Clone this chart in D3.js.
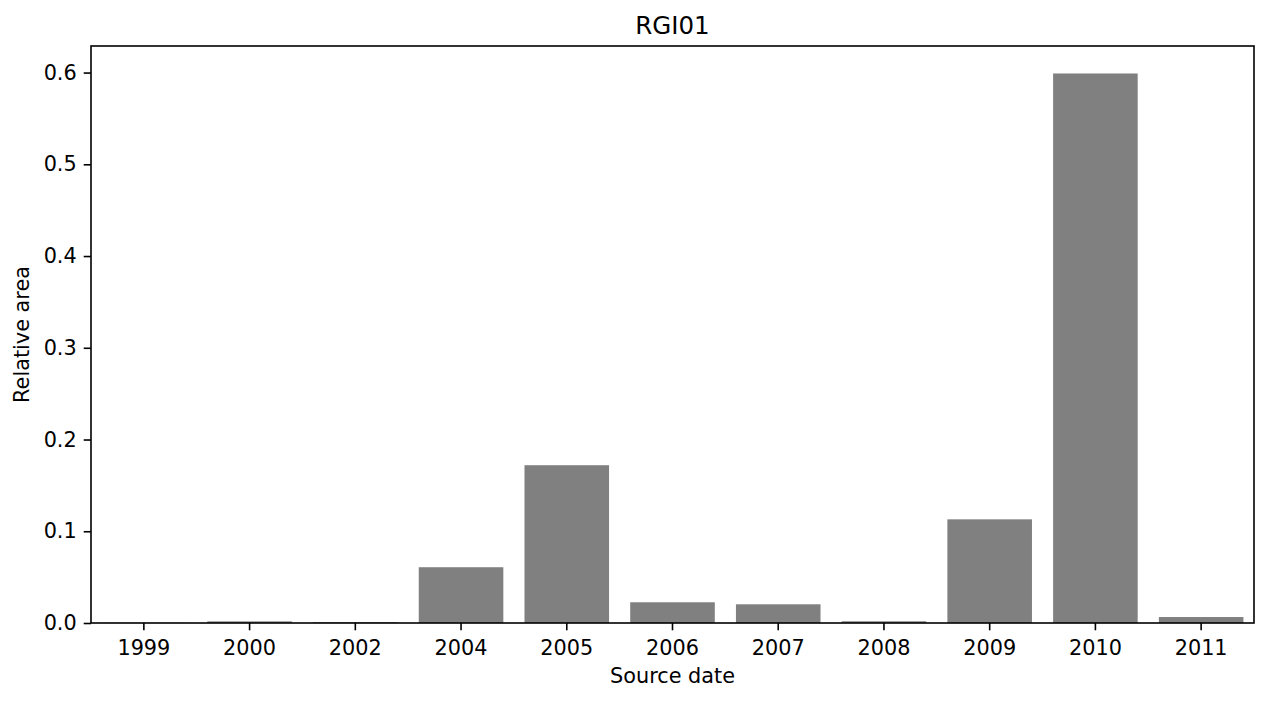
<!DOCTYPE html>
<html>
<head>
<meta charset="utf-8">
<script src="https://d3js.org/d3.v7.min.js"></script>
<style>
  body { margin: 0; background: #fff; }
  text { font-family: "DejaVu Sans", sans-serif; fill: #000; }
</style>
</head>
<body>
<svg id="chart" width="1268" height="701"></svg>
<script>
const categories = ["1999","2000","2002","2004","2005","2006","2007","2008","2009","2010","2011"];
const values = [0.0002, 0.0018, 0.0008, 0.0608, 0.172, 0.0226, 0.0204, 0.0019, 0.113, 0.599, 0.0065];
const yTicks = [0.0, 0.1, 0.2, 0.3, 0.4, 0.5, 0.6];
const title = "RGI01";
const xLabel = "Source date";
const yLabel = "Relative area";

const svg = d3.select("#chart");
const margin = {left: 91, right: 14, top: 46, bottom: 78};
const W = 1268, H = 701;
const pw = W - margin.left - margin.right;
const ph = H - margin.top - margin.bottom;

const x = d3.scaleBand().domain(categories).range([0, pw]).paddingInner(0.2).paddingOuter(0.1);
const y = d3.scaleLinear().domain([0, d3.max(values) * 1.05]).range([ph, 0]);

const g = svg.append("g").attr("transform", `translate(${margin.left},${margin.top})`);

g.selectAll("rect.bar").data(categories).join("rect")
  .attr("class", "bar")
  .attr("x", d => x(d))
  .attr("width", x.bandwidth())
  .attr("y", (d, i) => y(values[i]))
  .attr("height", (d, i) => y(0) - y(values[i]))
  .attr("fill", "#808080");

const fs = 20.8;
const xAxis = g.append("g").attr("transform", `translate(0,${ph})`)
  .call(d3.axisBottom(x).tickSize(7.3).tickPadding(9.5).tickSizeOuter(0));
const yAxis = g.append("g")
  .call(d3.axisLeft(y).tickValues(yTicks).tickFormat(d3.format(".1f")).tickSize(7.3).tickPadding(7).tickSizeOuter(0));
[xAxis, yAxis].forEach(a => {
  a.select(".domain").remove();
  a.selectAll("line").attr("stroke", "#000").attr("stroke-width", 1.6);
  a.selectAll("text").style("font-size", fs + "px").style("font-family", "DejaVu Sans").attr("fill", "#000");
});

g.append("rect").attr("x", 0).attr("y", 0).attr("width", pw).attr("height", ph)
  .attr("fill", "none").attr("stroke", "#000").attr("stroke-width", 1.6);

svg.append("text").attr("x", margin.left + pw / 2).attr("y", 34)
  .attr("text-anchor", "middle").style("font-size", "24.5px").text(title);
svg.append("text").attr("x", margin.left + pw / 2).attr("y", 683)
  .attr("text-anchor", "middle").style("font-size", fs + "px").text(xLabel);
svg.append("text").attr("transform", `translate(29,${margin.top + ph / 2}) rotate(-90)`)
  .attr("text-anchor", "middle").style("font-size", fs + "px").text(yLabel);
</script>
</body>
</html>
